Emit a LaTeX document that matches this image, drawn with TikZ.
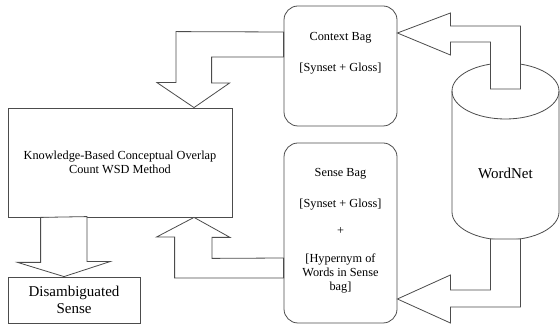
\documentclass[tikz,border=0pt]{standalone}
\usepackage{fontspec}
\setmainfont{Liberation Serif}
\usetikzlibrary{calc}
\definecolor{linegray}{gray}{0.3}
\begin{document}
\begin{tikzpicture}[x=1pt,y=1pt,line width=0.8pt,
    bag/.style={draw=linegray, rounded corners=14, minimum width=113, inner sep=0},
    boxnode/.style={draw=linegray, inner sep=0},
    blockarrow/.style={draw=linegray, fill=white, line join=miter},
    txt/.style={align=center, font=\fontsize{12.3}{14}\selectfont},
    bigtxt/.style={align=center, font=\fontsize{15}{17}\selectfont}]
          \useasboundingbox (0,0) rectangle (560,326);

          % wordnet store
          \draw[draw=linegray, fill=white] (452,235) -- (452,114)
                arc[start angle=180, end angle=360, x radius=53.5, y radius=28] -- (559,235)
                arc[start angle=0, end angle=180, x radius=53.5, y radius=28] -- cycle;
          \draw[draw=linegray] (452,235) arc[start angle=180, end angle=360, x radius=53.5, y radius=28];
          \node   (wn)  [bigtxt] at (505.5,153) {WordNet};

          \node   (ctx)    [bag, minimum height=120] at (340.5,260) {};
          \node   (sense)  [bag, minimum height=180] at (340.5,93) {};
          \node   (kb)     [boxnode, txt, minimum width=224, minimum height=109] at (120,163.5)
                  {Knowledge-Based Conceptual Overlap\\Count WSD Method};
          \node   (disamb) [boxnode, bigtxt, minimum width=132, minimum height=46] at (74,26)
                  {Disambiguated\\Sense};
          \node   (ctxtext)   [txt] at ($(ctx.north)+(0,-47.5)$)
                  {Context Bag\\[17pt][Synset + Gloss]};
          \node   (sensetext) [txt] at ($(sense.north)+(0,-88)$)
                  {Sense Bag\\[17pt][Synset + Gloss]\\[13pt]+\\[14pt][Hypernym of\\Words in Sense\\bag]};

          % block arrows
          \draw[blockarrow] ($(ctx.east)+(0,33)$) -- ++(53,20) -- ++(0,-13) -- ++(70,0)
                -- ++(0,-63) -- ++(-30,0) -- ++(0,47) -- ++(-40,0) -- ++(0,-13) -- cycle;
          \draw[blockarrow] ($(sense.east)+(0,-66)$) -- ++(53,24) -- ++(0,-15) -- ++(40,0)
                -- ++(0,51) -- ++(30,0) -- ++(0,-68) -- ++(-70,0) -- ++(0,-16) -- cycle;
          \draw[blockarrow] ($(kb.north)+(74,0)$) -- ++(-37,25) -- ++(19,0) -- ++(0,51)
                -- ($(ctx.west)+(0,34)$) -- ++(0,-25) -- ++(-72,0) -- ++(0,-26) -- ++(18,0) -- cycle;
          \draw[blockarrow] ($(kb.south)+(74,0)$) -- ++(36,-20) -- ++(-18,0) -- ++(0,-21)
                -- ($(sense.west)+(0,-25)$) -- ++(0,-20) -- ++(-109,0) -- ++(0,41) -- ++(-18,0) -- cycle;
          \draw[blockarrow] ($(kb.south west)+(33,0)$) -- ++(0,-45) -- ++(-23,0)
                -- ($(disamb.north)+(-10,0)$) -- ++(46,15) -- ++(-23,0) -- ++(0,45) -- cycle;
        \end{tikzpicture}
\end{document}
